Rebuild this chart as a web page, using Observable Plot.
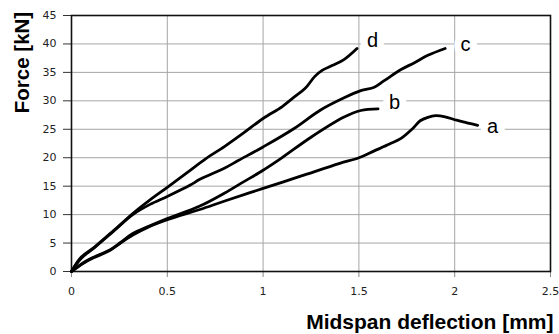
<!DOCTYPE html>
<html>
<head>
<meta charset="utf-8">
<script src="https://cdn.jsdelivr.net/npm/d3@7"></script>
<script src="https://cdn.jsdelivr.net/npm/@observablehq/plot@0.6"></script>
<style>
  html, body { margin: 0; padding: 0; background: #fff; }
  #chart { width: 559px; height: 334px; }
</style>
</head>
<body>
<div id="chart"></div>
<script>
// Series values (midspan deflection [mm], force [kN])
const aX = [0, 0.06, 0.115, 0.2, 0.256, 0.32, 0.4, 0.5, 0.67, 0.8, 1.0, 1.2, 1.4, 1.5, 1.58, 1.66, 1.72, 1.78, 1.82, 1.86, 1.9, 1.95, 2.01, 2.07, 2.12];
const aY = [0, 1.4, 2.4, 3.7, 5.0, 6.4, 7.8, 9.1, 10.9, 12.4, 14.6, 16.8, 19.0, 20.0, 21.2, 22.4, 23.4, 25.1, 26.5, 27.1, 27.4, 27.2, 26.6, 26.1, 25.7];

const bX = [0, 0.06, 0.115, 0.2, 0.256, 0.32, 0.4, 0.5, 0.67, 0.8, 0.9, 1.0, 1.09, 1.25, 1.42, 1.51, 1.6];
const bY = [0, 1.5, 2.5, 3.8, 5.1, 6.7, 7.9, 9.3, 11.5, 13.8, 15.8, 17.8, 19.8, 23.6, 27.1, 28.3, 28.6];

const cX = [0, 0.05, 0.12, 0.22, 0.32, 0.41, 0.5, 0.62, 0.67, 0.8, 0.87, 1.0, 1.16, 1.3, 1.42, 1.51, 1.58, 1.63, 1.72, 1.79, 1.86, 1.95];
const cY = [0, 2.3, 4.2, 7.1, 10.0, 11.8, 13.2, 15.2, 16.2, 18.2, 19.5, 21.9, 25.1, 28.4, 30.5, 31.8, 32.4, 33.5, 35.5, 36.7, 38.0, 39.2];

const dX = [0, 0.05, 0.12, 0.22, 0.32, 0.41, 0.5, 0.6, 0.7, 0.8, 0.9, 1.0, 1.1, 1.16, 1.22, 1.27, 1.31, 1.36, 1.42, 1.49];
const dY = [0, 2.5, 4.3, 7.2, 10.2, 12.6, 14.8, 17.3, 19.8, 22.0, 24.4, 26.9, 29.0, 30.6, 32.2, 34.3, 35.4, 36.2, 37.2, 39.2];

// Curve labels
const labelText = ["d", "c", "b", "a"];
const labelX = [1.571, 2.056, 1.686, 2.197];
const labelY = [39.4, 38.7, 28.6, 24.4];

// Axis ticks
const xTicks = [0, 0.5, 1, 1.5, 2, 2.5];
const yTicks = [0, 5, 10, 15, 20, 25, 30, 35, 40, 45];
const xTitle = "Midspan deflection [mm]";
const yTitle = "Force [kN]";

const series = [["a", aX, aY], ["b", bX, bY], ["c", cX, cY], ["d", dX, dY]];
const data = series.flatMap(([name, xs, ys]) => xs.map((x, i) => ({series: name, x, y: ys[i]})));
const labels = labelText.map((t, i) => ({text: t, x: labelX[i], y: labelY[i]}));

const tickFont = "'DejaVu Sans', Verdana, sans-serif";
const titleFont = "'Liberation Sans', Arial, sans-serif";

const chart = Plot.plot({
  width: 559,
  height: 334,
  marginLeft: 71,
  marginRight: 9,
  marginTop: 15,
  marginBottom: 63,
  style: {background: "white", overflow: "visible"},
  x: {domain: [0, 2.5]},
  y: {domain: [0, 45]},
  marks: [
    Plot.gridX(xTicks, {stroke: "#a6a6a6", strokeOpacity: 1, strokeWidth: 1}),
    Plot.gridY(yTicks, {stroke: "#a6a6a6", strokeOpacity: 1, strokeWidth: 1}),
    Plot.axisY(yTicks, {tickSize: 8, tickPadding: 7, fontSize: 11, fontFamily: tickFont, fill: "#222", stroke: "#333", label: null, tickFormat: d => String(d)}),
    Plot.axisX(xTicks, {tickSize: 6, tickPadding: 10, fontSize: 11, fontFamily: tickFont, fill: "#222", stroke: "#888", label: null, tickFormat: d => String(d)}),
    Plot.frame({stroke: "#111", strokeWidth: 1.6}),
    Plot.line(data, {x: "x", y: "y", z: "series", curve: "catmull-rom", stroke: "black", strokeWidth: 2.8, strokeLinecap: "round", strokeLinejoin: "round"}),
    Plot.text(labels, {x: "x", y: "y", text: "text", fontSize: 20, fontFamily: titleFont, fill: "black", stroke: "white", strokeWidth: 14, strokeLinejoin: "round", lineAnchor: "bottom", textAnchor: "middle"}),
    Plot.text([yTitle], {frameAnchor: "left", rotate: -90, dx: -49, dy: -81, fontSize: 20.5, fontWeight: "bold", fontFamily: titleFont, fill: "black", textAnchor: "middle", lineAnchor: "middle"}),
    Plot.text([xTitle], {frameAnchor: "bottom-right", dx: 3, dy: 51, fontSize: 21, fontWeight: "bold", fontFamily: titleFont, fill: "black", textAnchor: "end", lineAnchor: "middle"})
  ]
});
document.getElementById("chart").appendChild(chart);
</script>
</body>
</html>
